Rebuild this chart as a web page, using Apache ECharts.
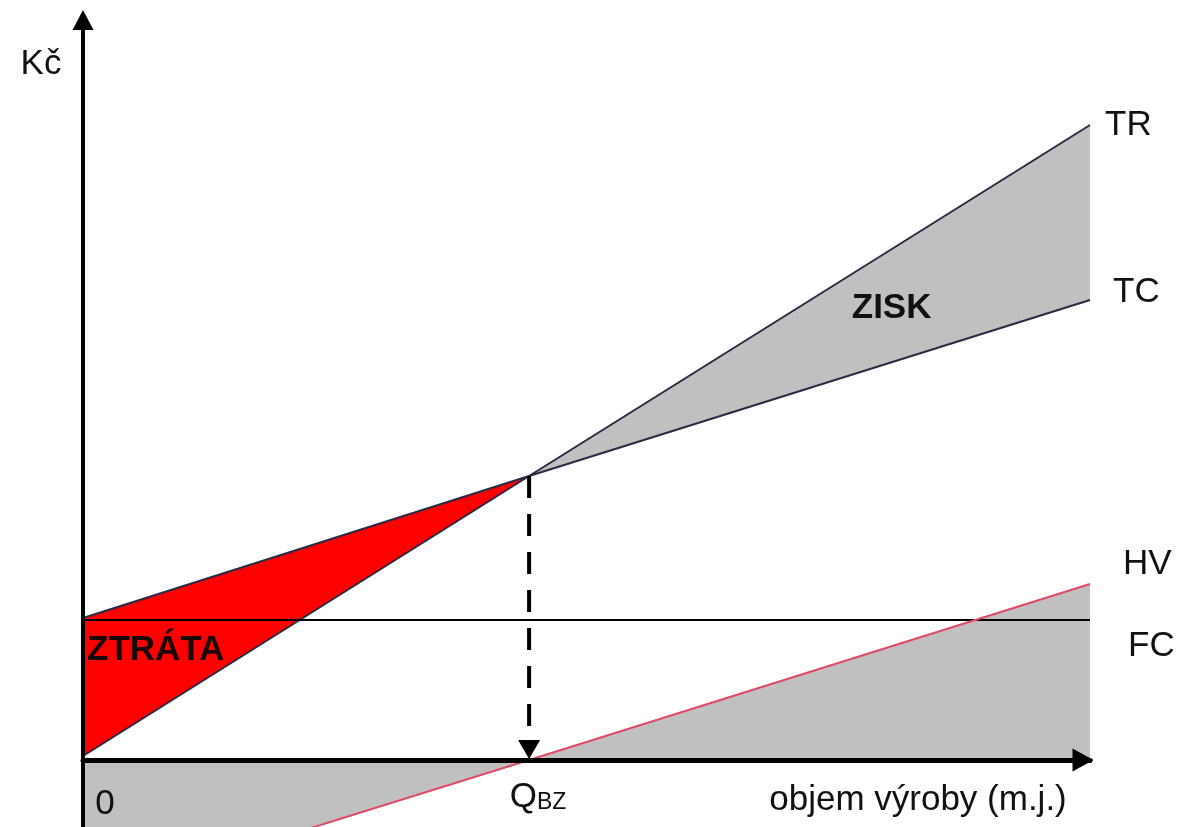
<!DOCTYPE html>
<html>
<head>
<meta charset="utf-8">
<script src="https://cdn.jsdelivr.net/npm/echarts@6/dist/echarts.min.js"></script>
<style>
  html, body { margin: 0; padding: 0; background: #fff; }
  #chart { width: 1178px; height: 827px; }
</style>
</head>
<body>
<div id="chart"></div>
<script>
// Break-even chart: revenue, costs and result against production volume.
const quantity   = [0, 44.3, 100];      // objem výroby (m.j.)
const revenue    = [4, 284, 635];       // TR
const totalCost  = [142, 284, 460];     // TC
const fixedCost  = [140, 140, 140];     // FC
const result     = [-139, 0, 176];      // HV
const breakEvenIdx = 1;                 // Q_BZ position in the arrays

const FONT = "'Liberation Sans', Arial, sans-serif";
const INK = '#111';
const GRAY = '#c0c0c0';

const pairs = (ys) => quantity.map((q, i) => [q, ys[i]]);

// polygons in data space
const lossPoly = [];
for (let i = 0; i <= breakEvenIdx; i++) lossPoly.push([quantity[i], totalCost[i]]);
for (let i = breakEvenIdx; i >= 0; i--) lossPoly.push([quantity[i], revenue[i]]);

const profitPoly = [];
for (let i = breakEvenIdx; i < quantity.length; i++) profitPoly.push([quantity[i], revenue[i]]);
for (let i = quantity.length - 1; i >= breakEvenIdx; i--) profitPoly.push([quantity[i], totalCost[i]]);

const resultPoly = [[quantity[0], 0]];
for (let i = 0; i < quantity.length; i++) resultPoly.push([quantity[i], result[i]]);
resultPoly.push([quantity[quantity.length - 1], 0]);

function polygonSeries(name, poly, color) {
  return {
    type: 'custom',
    name,
    silent: true,
    z: 1,
    data: [[0, 0]],
    renderItem: (params, api) => ({
      type: 'polygon',
      shape: { points: poly.map(p => api.coord(p)) },
      style: { fill: color }
    })
  };
}

function lineSeries(name, ys, color, width, offset) {
  return {
    type: 'line',
    name,
    data: pairs(ys),
    symbol: 'none',
    silent: true,
    z: 3,
    lineStyle: { color, width },
    endLabel: {
      show: true,
      formatter: '{a}',
      distance: 0,
      offset,
      align: 'left',
      verticalAlign: 'middle',
      fontFamily: FONT,
      fontSize: 35,
      color: INK
    }
  };
}

const chart = echarts.init(document.getElementById('chart'), null, { renderer: 'canvas' });

chart.setOption({
  animation: false,
  backgroundColor: '#fff',
  grid: { left: 83, right: 88, top: 20, bottom: 0, containLabel: false, outerBoundsMode: 'none' },
  xAxis: {
    type: 'value',
    min: 0,
    max: 100,
    z: 10,
    axisLine: {
      show: true,
      onZero: true,
      symbol: ['none', 'triangle'],
      symbolSize: [23, 21],
      symbolOffset: [0, -7],
      lineStyle: { color: '#000', width: 5 }
    },
    axisTick: { show: false },
    axisLabel: { show: false },
    splitLine: { show: false }
  },
  yAxis: {
    type: 'value',
    min: -67,
    max: 740,
    z: 10,
    axisLine: {
      show: true,
      symbol: ['none', 'triangle'],
      symbolSize: [21, 20],
      lineStyle: { color: '#000', width: 4 }
    },
    axisTick: { show: false },
    axisLabel: { show: false },
    splitLine: { show: false }
  },
  series: [
    polygonSeries('HV plocha', resultPoly, GRAY),
    polygonSeries('ZTRÁTA', lossPoly, '#ff0000'),
    polygonSeries('ZISK', profitPoly, GRAY),
    lineSeries('TR', revenue, '#2a2a44', 2, [15, 0]),
    lineSeries('TC', totalCost, '#2a2a44', 2, [23, -8]),
    lineSeries('FC', fixedCost, '#000', 2, [38, 26]),
    lineSeries('HV', result, '#e04a66', 2, [33, -20]),
    {
      // dashed drop line from the break-even point to the volume axis
      type: 'custom',
      name: 'Q_BZ',
      silent: true,
      z: 4,
      data: [[quantity[breakEvenIdx], 0]],
      renderItem: (params, api) => {
        const top = api.coord([quantity[breakEvenIdx], revenue[breakEvenIdx]]);
        const base = api.coord([quantity[breakEvenIdx], 0]);
        const head = 19, half = 11;
        return {
          type: 'group',
          children: [
            {
              type: 'line',
              shape: { x1: top[0], y1: top[1], x2: base[0], y2: base[1] - head },
              style: { stroke: '#000', lineWidth: 4, lineDash: [22, 16] }
            },
            {
              type: 'polygon',
              shape: { points: [[base[0] - half, base[1] - head - 1], [base[0] + half, base[1] - head - 1], [base[0], base[1] - 1]] },
              style: { fill: '#000' }
            }
          ]
        };
      }
    }
  ]
});

// text annotations anchored to the axes
const at = (q, v) => chart.convertToPixel({ gridIndex: 0 }, [q, v]);
const origin = at(0, 0);
const qbz = at(quantity[breakEvenIdx], 0);
const zisk = at(80.3, 452);
const ztrata = at(0, 110);

const txt = (text, x, y, extra) => ({
  type: 'text',
  x, y,
  silent: true,
  z: 20,
  style: Object.assign({
    text,
    fontFamily: FONT,
    fontSize: 35,
    fill: INK,
    align: 'center',
    verticalAlign: 'middle'
  }, extra || {})
});

chart.setOption({
  graphic: [
    txt('Kč', origin[0] - 42, 64),
    txt('ZISK', zisk[0], zisk[1], { fontWeight: 'bold' }),
    txt('ZTRÁTA', ztrata[0] + 4, ztrata[1], { fontWeight: 'bold', align: 'left', fill: '#1a0808' }),
    txt('0', origin[0] + 22, origin[1] + 44),
    txt('objem výroby (m.j.)', 918, origin[1] + 40),
    {
      type: 'text',
      x: qbz[0] + 9,
      y: qbz[1] + 37,
      silent: true,
      z: 20,
      style: {
        text: '{q|Q}{s|BZ}',
        align: 'center',
        verticalAlign: 'middle',
        fill: INK,
        rich: {
          q: { fontFamily: FONT, fontSize: 35, lineHeight: 35, verticalAlign: 'bottom', fill: INK },
          s: { fontFamily: FONT, fontSize: 23, lineHeight: 30, verticalAlign: 'bottom', fill: INK }
        }
      }
    }
  ]
});
</script>
</body>
</html>
